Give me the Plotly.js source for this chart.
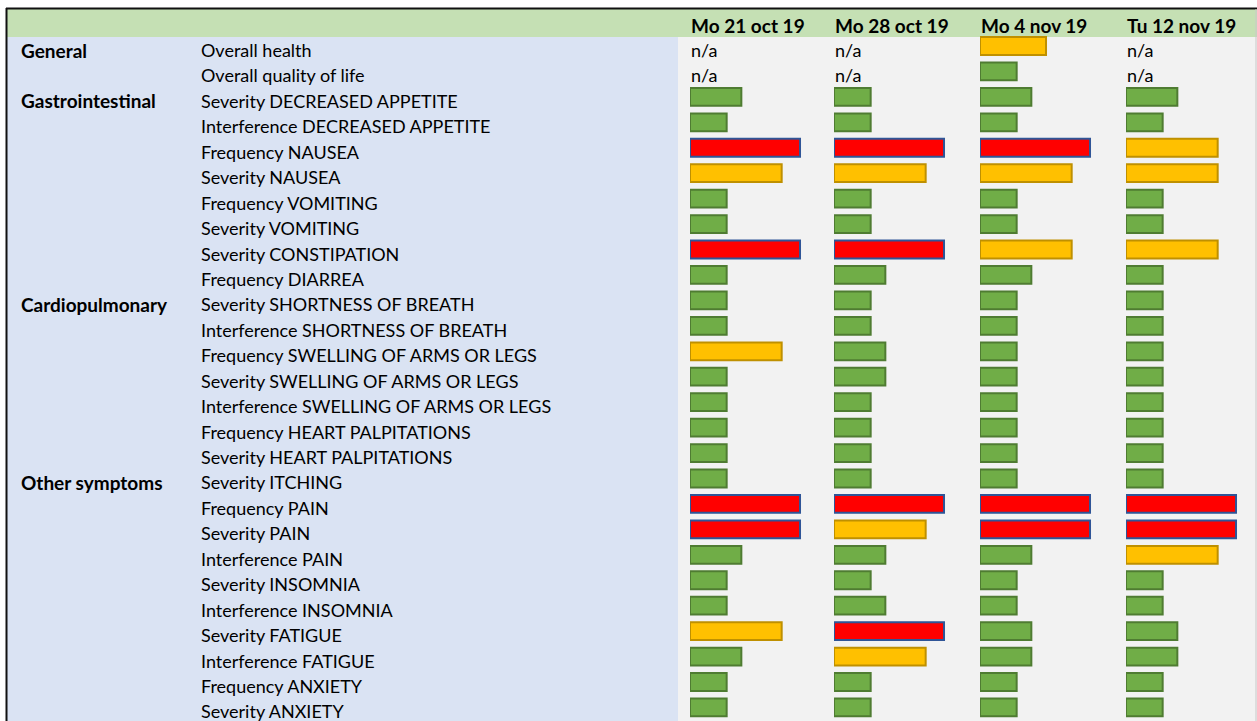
<!DOCTYPE html>
<html>
<head>
<meta charset="utf-8">
<script src="https://cdn.plot.ly/plotly-3.0.1.min.js"></script>
<style>
html,body{margin:0;padding:0;background:#fff;}
#chart{width:1257px;height:721px;}
</style>
</head>
<body>
<div id="chart"></div>
<script>
// ---- data ----
const dates = ["Mo 21 oct 19", "Mo 28 oct 19", "Mo 4 nov 19", "Tu 12 nov 19"];
const items = [
  "Overall health", "Overall quality of life",
  "Severity DECREASED APPETITE", "Interference DECREASED APPETITE",
  "Frequency NAUSEA", "Severity NAUSEA",
  "Frequency VOMITING", "Severity VOMITING",
  "Severity CONSTIPATION", "Frequency DIARREA",
  "Severity SHORTNESS OF BREATH", "Interference SHORTNESS OF BREATH",
  "Frequency SWELLING OF ARMS OR LEGS", "Severity SWELLING OF ARMS OR LEGS",
  "Interference SWELLING OF ARMS OR LEGS",
  "Frequency HEART PALPITATIONS", "Severity HEART PALPITATIONS",
  "Severity ITCHING", "Frequency PAIN", "Severity PAIN", "Interference PAIN",
  "Severity INSOMNIA", "Interference INSOMNIA",
  "Severity FATIGUE", "Interference FATIGUE",
  "Frequency ANXIETY", "Severity ANXIETY"
];
const groupLabels = ["General", "", "Gastrointestinal", "", "", "", "", "", "", "",
  "Cardiopulmonary", "", "", "", "", "", "", "Other symptoms", "", "", "", "", "", "", "", "", ""];

// bar lengths (null = n/a)
const values21oct = [null, null, 1.4, 1, 3, 2.5, 1, 1, 3, 1, 1, 1, 2.5, 1, 1, 1, 1, 1, 3, 3, 1.4, 1, 1, 2.5, 1.4, 1, 1];
const values28oct = [null, null, 1, 1, 3, 2.5, 1, 1, 3, 1.4, 1, 1, 1.4, 1.4, 1, 1, 1, 1, 3, 2.5, 1.4, 1, 1.4, 3, 2.5, 1, 1];
const values4nov  = [1.8, 1, 1.4, 1, 3, 2.5, 1, 1, 2.5, 1.4, 1, 1, 1, 1, 1, 1, 1, 1, 3, 3, 1.4, 1, 1, 1.4, 1.4, 1, 1];
const values12nov = [null, null, 1.4, 1, 2.5, 2.5, 1, 1, 2.5, 1, 1, 1, 1, 1, 1, 1, 1, 1, 3, 3, 2.5, 1, 1, 1.4, 1.4, 1, 1];

// status: G = green, O = orange, R = red
const status21oct = ["", "", "G", "G", "R", "O", "G", "G", "R", "G", "G", "G", "O", "G", "G", "G", "G", "G", "R", "R", "G", "G", "G", "O", "G", "G", "G"];
const status28oct = ["", "", "G", "G", "R", "O", "G", "G", "R", "G", "G", "G", "G", "G", "G", "G", "G", "G", "R", "O", "G", "G", "G", "R", "O", "G", "G"];
const status4nov  = ["O", "G", "G", "G", "R", "O", "G", "G", "O", "G", "G", "G", "G", "G", "G", "G", "G", "G", "R", "R", "G", "G", "G", "G", "G", "G", "G"];
const status12nov = ["", "", "G", "G", "O", "O", "G", "G", "O", "G", "G", "G", "G", "G", "G", "G", "G", "G", "R", "R", "O", "G", "G", "G", "G", "G", "G"];

// ---- styling ----
const W = 1257, H = 721;
const FONT = "Lato, 'Open Sans', sans-serif";
const TXT = 18, BOLD = 19;
const fillOf = {G: "#70AD47", O: "#FFC000", R: "#FF0000"};
const lineOf = {G: "#4F7C32", O: "#BF9000", R: "#2F5597"};
const colStartPx = [690, 834, 980, 1126];
const colWidthPx = 125;
const pxPerUnit = 36.67;
const rowPitch = 25.44, firstRowPx = 46;

const allValues = [values21oct, values28oct, values4nov, values12nov];
const allStatus = [status21oct, status28oct, status4nov, status12nov];
const rows = items.map((_, i) => i);

const px = v => v / W;
const py = v => 1 - v / H;

const traces = allValues.map((vals, k) => ({
  type: "bar",
  orientation: "h",
  x: vals,
  y: rows,
  xaxis: k === 0 ? "x" : "x" + (k + 1),
  yaxis: "y",
  width: 0.7,
  marker: {
    color: allStatus[k].map(s => fillOf[s] || "rgba(0,0,0,0)"),
    line: {color: allStatus[k].map(s => lineOf[s] || "rgba(0,0,0,0)"), width: 2}
  },
  hoverinfo: "skip",
  showlegend: false
}));

const layout = {
  width: W, height: H,
  margin: {l: 0, r: 0, t: 0, b: 0, pad: 0},
  paper_bgcolor: "#ffffff",
  plot_bgcolor: "rgba(0,0,0,0)",
  showlegend: false,
  barmode: "overlay",
  font: {family: FONT, size: TXT, color: "#000"},
  yaxis: {
    range: [-firstRowPx / rowPitch + H / rowPitch, -firstRowPx / rowPitch],
    visible: false, showgrid: false, zeroline: false, fixedrange: true
  },
  shapes: [
    {type: "rect", xref: "paper", yref: "paper", x0: px(7), x1: px(678), y0: py(721), y1: py(37), fillcolor: "#DAE3F3", line: {width: 0}, layer: "below"},
    {type: "rect", xref: "paper", yref: "paper", x0: px(678), x1: px(1257), y0: py(721), y1: py(37), fillcolor: "#F2F2F2", line: {width: 0}, layer: "below"},
    {type: "rect", xref: "paper", yref: "paper", x0: px(7), x1: px(1257), y0: py(37), y1: py(9), fillcolor: "#C5E0B4", line: {width: 0}, layer: "below"},
    {type: "line", xref: "paper", yref: "paper", x0: px(6.5), x1: px(6.5), y0: py(721), y1: py(8), line: {color: "#111", width: 2}},
    {type: "line", xref: "paper", yref: "paper", x0: px(6), x1: px(1257), y0: py(8.5), y1: py(8.5), line: {color: "#111", width: 2}},
    {type: "line", xref: "paper", yref: "paper", x0: px(1256), x1: px(1256), y0: py(721), y1: py(9), line: {color: "#C8C8C8", width: 1}}
  ],
  annotations: []
};

colStartPx.forEach((s, k) => {
  const name = k === 0 ? "xaxis" : "xaxis" + (k + 1);
  layout[name] = {
    domain: [px(s), px(s + colWidthPx)],
    range: [0, colWidthPx / pxPerUnit],
    anchor: "y",
    visible: false, showgrid: false, zeroline: false, fixedrange: true
  };
});

// item labels and group labels
items.forEach((t, i) => {
  layout.annotations.push({text: t, xref: "paper", yref: "y", x: px(200), y: i, xanchor: "left", yanchor: "middle", yshift: -4, borderpad: 0, showarrow: false, font: {family: FONT, size: TXT, color: "#000"}});
  if (groupLabels[i]) {
    layout.annotations.push({text: "<b>" + groupLabels[i] + "</b>", xref: "paper", yref: "y", x: px(20), y: i, xanchor: "left", yanchor: "middle", yshift: -4, borderpad: 0, showarrow: false, font: {family: FONT, size: BOLD, color: "#000"}});
  }
});

// headers and n/a
dates.forEach((d, k) => {
  const xr = k === 0 ? "x" : "x" + (k + 1);
  layout.annotations.push({text: "<b>" + d + "</b>", xref: xr, yref: "y", x: 0, y: -1, xanchor: "left", yanchor: "middle", xshift: -1, yshift: -5, showarrow: false, font: {family: FONT, size: BOLD, color: "#000"}});
  allValues[k].forEach((v, i) => {
    if (v === null) {
      layout.annotations.push({text: "n/a", xref: xr, yref: "y", x: 0, y: i, xanchor: "left", yanchor: "middle", xshift: 0, yshift: -4, borderpad: 0, showarrow: false, font: {family: FONT, size: TXT, color: "#000"}});
    }
  });
});

Plotly.newPlot("chart", traces, layout, {staticPlot: true, displayModeBar: false});
</script>
</body>
</html>
